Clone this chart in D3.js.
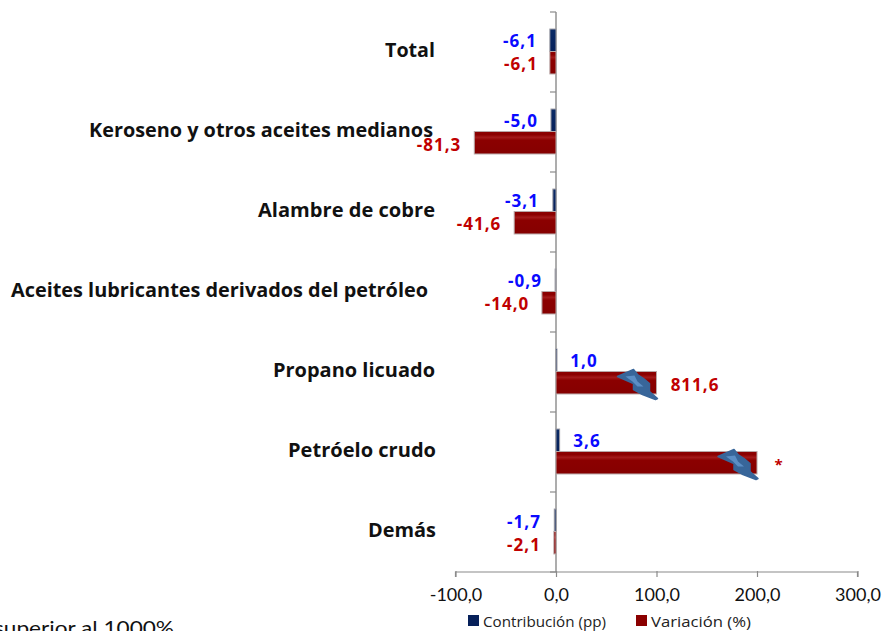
<!DOCTYPE html>
<html><head><meta charset="utf-8">
<script src="https://cdn.jsdelivr.net/npm/d3@7"></script>
<style>html,body{margin:0;padding:0;background:#fff;overflow:hidden}svg{display:block}text{font-family:"Open Sans",Lato,sans-serif}</style>
</head><body><svg id="c" width="886" height="631"></svg>
<script>
const categories=["Total","Keroseno y otros aceites medianos","Alambre de cobre","Aceites lubricantes derivados del petróleo","Propano licuado","Petróelo crudo","Demás"];
const contribucion=[-6.1,-5.0,-3.1,-0.9,1.0,3.6,-1.7];
const variacionDrawn=[-6.1,-81.3,-41.6,-14.0,100,200,-2.1];
const contribLabels=["-6,1","-5,0","-3,1","-0,9","1,0","3,6","-1,7"];
const varLabels=["-6,1","-81,3","-41,6","-14,0","811,6","*","-2,1"];
const xTicks=[-100,0,100,200,300];
const brokenBars=["Propano licuado","Petróelo crudo"];
const footnote="superior al 1000%";

const svg=d3.select("#c");
const x=d3.scaleLinear().domain([-100,300]).range([455.5,857.5]);
const y=d3.scaleBand().domain(categories).range([12,572]);
const sub=d3.scaleBand().domain(["c","v"]).range([-0.5,y.bandwidth()-0.5]).paddingOuter(0.78).paddingInner(0);
const fmt=d=>d3.format(".1f")(d).replace("−","-").replace(".",",");
const defs=svg.append("defs");
function grad(id,stops){const g=defs.append("linearGradient").attr("id",id).attr("x1",0).attr("x2",0).attr("y1",0).attr("y2",1);
 stops.forEach(s=>g.append("stop").attr("offset",s[0]).attr("stop-color",s[1]));}
grad("gv",[[0,"#8b0303"],[0.14,"#8b0000"],[0.26,"#a31a1a"],[0.4,"#8b0000"],[1,"#850000"]]);
grad("gc",[[0,"#0a2a66"],[1,"#06205a"]]);

const boundaries=categories.map(c=>y(c)).concat([y.range()[1]]);
const gy=svg.append("g").attr("transform",`translate(${x(0)},0)`);
gy.selectAll("line.t").data(boundaries).join("line").attr("class","t").attr("x1",-6).attr("x2",0).attr("y1",d=>d).attr("y2",d=>d).attr("stroke","#8a8a8a").attr("stroke-width",1.2);
gy.append("line").attr("y1",y.range()[0]).attr("y2",y.range()[1]).attr("stroke","#8a8a8a").attr("stroke-width",1.4);

const gx=svg.append("g").attr("transform",`translate(0,${y.range()[1]})`)
 .call(d3.axisBottom(x).tickValues(xTicks).tickSize(6).tickFormat(fmt));
gx.select(".domain").attr("d",`M${x(-100)},5V0H${x(300)}V5`).attr("stroke","#8a8a8a").attr("stroke-width",1.2).attr("fill","none");
gx.selectAll(".tick line").attr("stroke","#8a8a8a").attr("stroke-width",1.2).attr("y1",-1).attr("y2",5);
gx.selectAll(".tick text").attr("y",16).attr("dy","0.71em").attr("font-size",18).attr("fill","#111").style("font-family","Lato");

const bar=(val,key,fill,stroke)=>svg.append("g").selectAll("rect").data(categories).join("rect")
 .attr("x",(c,i)=>Math.min(x(0),x(val[i])))
 .attr("width",(c,i)=>Math.abs(x(val[i])-x(0)))
 .attr("y",c=>y(c)+sub(key)).attr("height",sub.bandwidth())
 .attr("fill",fill).attr("stroke",stroke).attr("stroke-width",1);
bar(contribucion,"c","url(#gc)","#9a9aa2");
bar(variacionDrawn,"v","url(#gv)","#b8a8a8");

// break markers
const boltShape=[[-39,5],[-23,-2],[-19,3],[-13,7],[-7,12],[-7,20],[1,27],[-1,28],[-14,23],[-23,18],[-23,12]];
const boltInner=[[-31,5],[-22,4],[-19,10],[-13,15],[-19,15],[-24,10]];
const line=d3.line();
brokenBars.forEach(c=>{
 const i=categories.indexOf(c), bx=x(variacionDrawn[i]), by=y(c)+sub("v");
 const g=svg.append("g").attr("transform",`translate(${bx},${by})`);
 g.append("path").attr("d",line(boltShape)+"Z").attr("fill","#38669a").attr("stroke","#38669a").attr("stroke-width",1.5).attr("stroke-linejoin","round");
 g.append("path").attr("d",line(boltInner)+"Z").attr("fill","#5b8ec6");
});

// category labels
const catX=[435,433,435,428,435,436,436];
const catW=[50,344,177,417,162,148,68];
svg.append("g").selectAll("text").data(categories).join("text")
 .attr("x",(c,i)=>catX[i]).attr("y",c=>y(c)+y.bandwidth()/2-2).attr("dy","0.35em")
 .attr("text-anchor","end").attr("font-size",19).attr("font-weight",700).attr("fill","#111")
 .attr("textLength",(c,i)=>catW[i]).attr("lengthAdjust","spacingAndGlyphs")
 .text(c=>c);

// data labels
const cLx=[520,521,522,525,584,587,524];
const cLy=[41,121,201,281,361,441,522];
const vLx=[521,439,479,507,695,779,524];
const vLy=[64,145,224,304,385,465,545];
const lab=(arr,xs,ys,col)=>svg.append("g").selectAll("text").data(arr).join("text")
 .attr("x",(d,i)=>xs[i]).attr("y",(d,i)=>ys[i]).attr("dy","0.35em").attr("text-anchor","middle")
 .attr("font-size",d=>d==="*"?15:17).attr("letter-spacing",1).attr("font-weight",700).attr("fill",col).text(d=>d);
lab(contribLabels,cLx,cLy,"#0a0aff");
lab(varLabels,vLx,vLy,"#c00000");

// legend
const lg=svg.append("g");
lg.append("rect").attr("x",468).attr("y",615).attr("width",11).attr("height",11).attr("fill","#06205a");
lg.append("text").attr("x",483).attr("y",627).attr("font-size",14).attr("fill","#222").attr("textLength",123).attr("lengthAdjust","spacingAndGlyphs").text("Contribución (pp)");
lg.append("rect").attr("x",636).attr("y",615).attr("width",11).attr("height",11).attr("fill","#8b0000");
lg.append("text").attr("x",651).attr("y",627).attr("font-size",14).attr("fill","#222").attr("textLength",100).attr("lengthAdjust","spacingAndGlyphs").text("Variación (%)");

svg.append("text").attr("x",-6).attr("y",635).attr("font-size",20).attr("fill","#111").attr("textLength",180).attr("lengthAdjust","spacingAndGlyphs").style("font-family","Lato").text(footnote);
</script></body></html>
